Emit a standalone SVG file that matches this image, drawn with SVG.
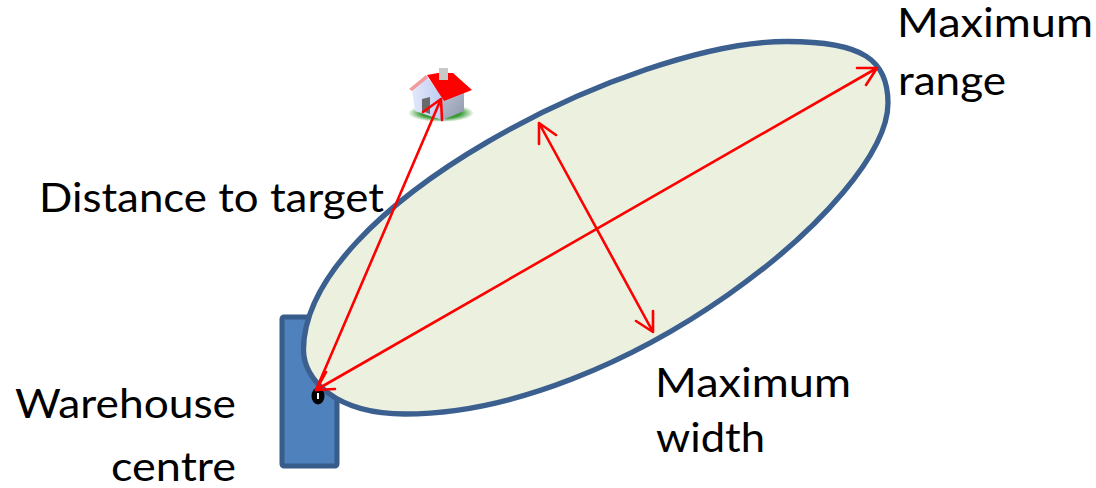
<svg xmlns="http://www.w3.org/2000/svg" width="1096" height="488" viewBox="0 0 1096 488">
<style>
text{font-family:"Lato","Open Sans",sans-serif;font-size:40px;fill:#000}
.a{fill:none;stroke:#f00;stroke-width:2.6;stroke-linecap:round;stroke-linejoin:round}
</style>
<defs>
<linearGradient id="wall" x1="0" x2="1" y1="0" y2="0"><stop offset="0" stop-color="#e2e8fb"/><stop offset="1" stop-color="#bccaf0"/></linearGradient>
<linearGradient id="side" x1="0" x2="1" y1="0" y2="1"><stop offset="0" stop-color="#bcc3d4"/><stop offset="1" stop-color="#8f97ad"/></linearGradient>
<radialGradient id="grass"><stop offset="0.6" stop-color="#3a9a36"/><stop offset="1" stop-color="#3a9a36" stop-opacity="0"/></radialGradient>
<filter id="soft" x="-10%" y="-10%" width="120%" height="120%"><feGaussianBlur stdDeviation="0.6"/></filter>
</defs>
<g id="warehouse"><rect x="282" y="317" width="55" height="149" rx="2" fill="#4f81bd" stroke="#385d8a" stroke-width="5"/></g>
<g id="range"><path d="M303.500 350C303.500 207 632 41.500 787 41.500C863 41.500 888 60 888 103C888 200 622 414 405 414C335 414 303.500 379 303.500 350Z" fill="#ebf0df" stroke="#3b5f8f" stroke-width="5.300"/></g>
<g id="centre"><ellipse cx="318" cy="396" rx="6.500" ry="8.500" fill="#000"/><rect x="317" y="393" width="2" height="6" fill="#fff"/></g>
<g id="house">
<ellipse cx="441" cy="113" rx="33" ry="9" fill="url(#grass)"/>
<g filter="url(#soft)">
<path d="M412 90L427 77L445 100V121L415 111Z" fill="url(#wall)"/>
<path d="M443 101L464 92V111L440 121Z" fill="url(#side)"/>
<path d="M422 99L430 97V114L422 111Z" fill="#6b6b6b"/>
<path d="M409 89L426 75L428 78L412 91Z" fill="#f59a9a"/>
<path d="M427 75L438 73L453 73L472 90L444 101Z" fill="#f00"/>
<path d="M439 68H448V80H439Z" fill="#c8c8c8"/>
</g>
</g>
<g id="connectors">
<path class="a" d="M316 390L877 68M857 68L877 68L866 85M335 389L316 390L326 372"/>
<path class="a" d="M316 390L441 99M423 112L441 99L442 120"/>
<path class="a" d="M539 123L653 332M539 144L539 123L556 135M653 311L653 332L636 321"/>
</g>
<g id="labels">
<text x="39" y="212" textLength="345" lengthAdjust="spacingAndGlyphs">Distance to target</text>
<text x="897" y="37" textLength="196" lengthAdjust="spacingAndGlyphs">Maximum</text>
<text x="898" y="95" textLength="108" lengthAdjust="spacingAndGlyphs">range</text>
<text x="655" y="397" textLength="196" lengthAdjust="spacingAndGlyphs">Maximum</text>
<text x="656" y="452" textLength="109" lengthAdjust="spacingAndGlyphs">width</text>
<text x="15" y="418" textLength="221" lengthAdjust="spacingAndGlyphs">Warehouse</text>
<text x="111" y="481" textLength="125" lengthAdjust="spacingAndGlyphs">centre</text>
</g>
</svg>
